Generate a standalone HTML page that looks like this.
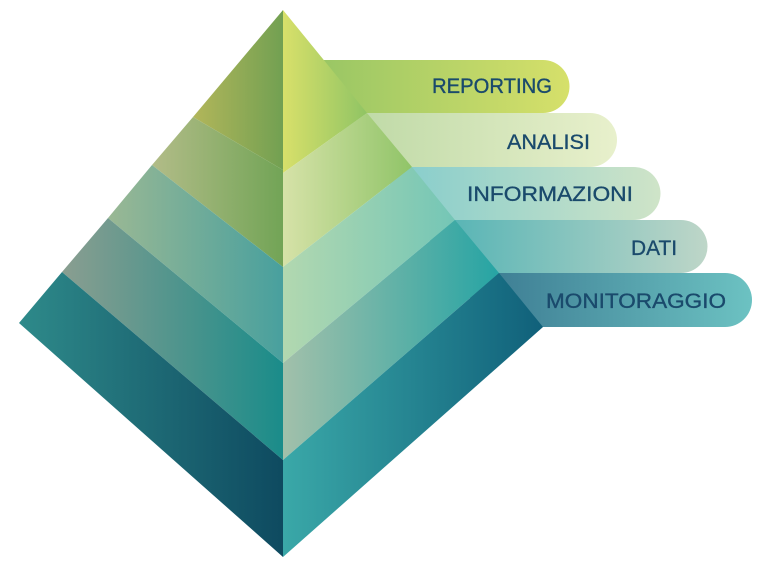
<!DOCTYPE html>
<html><head><meta charset="utf-8"><style>
html,body{margin:0;padding:0;background:#fff;width:768px;height:571px;overflow:hidden}
text{font-family:"Liberation Sans",sans-serif;font-size:21px;fill:#1a4a6c;stroke:#1a4a6c;stroke-width:0.35px}
</style></head><body>
<svg width="768" height="571" viewBox="0 0 768 571" xmlns="http://www.w3.org/2000/svg">
<defs>
<linearGradient id="t1" x1="0" x2="1" y1="0" y2="0"><stop offset="0" stop-color="#94c464"/><stop offset="1" stop-color="#d6e06a"/></linearGradient>
<linearGradient id="t2" x1="0" x2="1" y1="0" y2="0"><stop offset="0" stop-color="#bcd8a4"/><stop offset="1" stop-color="#e8f0cc"/></linearGradient>
<linearGradient id="t3" x1="0" x2="1" y1="0" y2="0"><stop offset="0" stop-color="#84cccc"/><stop offset="1" stop-color="#cfe4c8"/></linearGradient>
<linearGradient id="t4" x1="0" x2="1" y1="0" y2="0"><stop offset="0" stop-color="#50b2b4"/><stop offset="1" stop-color="#bed6c8"/></linearGradient>
<linearGradient id="t5" x1="0" x2="1" y1="0" y2="0"><stop offset="0" stop-color="#3a7890"/><stop offset="1" stop-color="#6cc2c2"/></linearGradient>
<linearGradient id="l1" x1="0" x2="1"><stop offset="0" stop-color="#b2b65a"/><stop offset="1" stop-color="#72a052"/></linearGradient>
<linearGradient id="l2" x1="0" x2="1"><stop offset="0" stop-color="#b2bc88"/><stop offset="1" stop-color="#72a456"/></linearGradient>
<linearGradient id="l3" x1="0" x2="1"><stop offset="0" stop-color="#9ab894"/><stop offset="1" stop-color="#48a09e"/></linearGradient>
<linearGradient id="l4" x1="0" x2="1"><stop offset="0" stop-color="#8a9e90"/><stop offset="1" stop-color="#1a8c8a"/></linearGradient>
<linearGradient id="l5" x1="0" x2="1"><stop offset="0" stop-color="#2e8a8a"/><stop offset="1" stop-color="#0e4a60"/></linearGradient>
<linearGradient id="r1" x1="0" x2="1"><stop offset="0" stop-color="#d8e06a"/><stop offset="1" stop-color="#90c464"/></linearGradient>
<linearGradient id="r2" x1="0" x2="1"><stop offset="0" stop-color="#d6e2a8"/><stop offset="1" stop-color="#90c468"/></linearGradient>
<linearGradient id="r3" x1="0" x2="1"><stop offset="0" stop-color="#b2d8b0"/><stop offset="1" stop-color="#74c6b6"/></linearGradient>
<linearGradient id="r4" x1="0" x2="1"><stop offset="0" stop-color="#a2c0aa"/><stop offset="1" stop-color="#26a4a4"/></linearGradient>
<linearGradient id="r5" x1="0" x2="1"><stop offset="0" stop-color="#3aa8a8"/><stop offset="1" stop-color="#10607a"/></linearGradient>
</defs>
<path d="M300 60 H543 A26.5 26.5 0 0 1 543 113 H300 Z" fill="url(#t1)"/>
<path d="M340 113 H590 A27 27 0 0 1 590 167 H340 Z" fill="url(#t2)"/>
<path d="M390 167 H634 A26.5 26.5 0 0 1 634 220 H390 Z" fill="url(#t3)"/>
<path d="M430 220 H681 A26.5 26.5 0 0 1 681 273 H430 Z" fill="url(#t4)"/>
<path d="M470 273 H725 A27 27 0 0 1 725 327 H470 Z" fill="url(#t5)"/>
<polygon points="283,10 193,117 283,170" fill="url(#l1)"/>
<polygon points="193,117 152,165 283,267 283,170" fill="url(#l2)"/>
<polygon points="152,165 108,218 283,363 283,267" fill="url(#l3)"/>
<polygon points="108,218 62,272 283,460 283,363" fill="url(#l4)"/>
<polygon points="62,272 19,323 283,557 283,460" fill="url(#l5)"/>
<polygon points="283,10 367,113 283,173" fill="url(#r1)"/>
<polygon points="283,173 367,113 412,167 283,267" fill="url(#r2)"/>
<polygon points="283,267 412,167 455,220 283,363" fill="url(#r3)"/>
<polygon points="283,363 455,220 499,273 283,460" fill="url(#r4)"/>
<polygon points="283,460 499,273 543,327 283,557" fill="url(#r5)"/>
<text x="432" y="93" textLength="120" lengthAdjust="spacingAndGlyphs">REPORTING</text>
<text x="507" y="149" textLength="83" lengthAdjust="spacingAndGlyphs">ANALISI</text>
<text x="467" y="201" textLength="166" lengthAdjust="spacingAndGlyphs">INFORMAZIONI</text>
<text x="631" y="255" textLength="46" lengthAdjust="spacingAndGlyphs">DATI</text>
<text x="546" y="308" textLength="180" lengthAdjust="spacingAndGlyphs">MONITORAGGIO</text>
</svg>
</body></html>
